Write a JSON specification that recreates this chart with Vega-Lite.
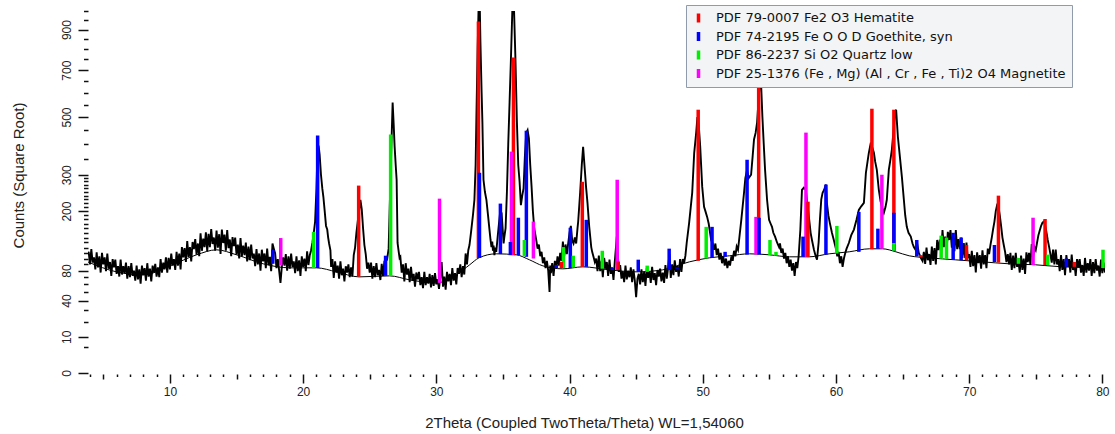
{
"$schema": "https://vega.github.io/schema/vega-lite/v6.json",
"width": 1017, "height": 362,
"autosize": {"type": "none"},
"padding": {"left": 88, "top": 11, "right": 10, "bottom": 61},
"background": "white",
"config": {"view": {"stroke": null}, "font": "Liberation Sans"},
"resolve": {"axis": {"x": "independent", "y": "independent"}},
"datasets": {
"pattern": [
{"t":3.85,"c":108},{"t":3.9,"c":112},{"t":4.0,"c":90},{"t":4.1,"c":117},{"t":4.2,"c":93},{"t":4.3,"c":102},{"t":4.4,"c":82},{"t":4.5,"c":111},{"t":4.6,"c":85},{"t":4.7,"c":104},{"t":4.8,"c":77},{"t":4.9,"c":110},{"t":5.0,"c":90},{"t":5.1,"c":102},{"t":5.2,"c":79},{"t":5.3,"c":109},{"t":5.4,"c":83},{"t":5.5,"c":94},{"t":5.6,"c":72},{"t":5.7,"c":99},{"t":5.8,"c":85},{"t":5.9,"c":98},{"t":6.0,"c":75},{"t":6.1,"c":87},{"t":6.2,"c":71},{"t":6.3,"c":98},{"t":6.4,"c":74},{"t":6.5,"c":87},{"t":6.6,"c":76},{"t":6.7,"c":93},{"t":6.8,"c":68},{"t":6.9,"c":87},{"t":7.0,"c":70},{"t":7.1,"c":92},{"t":7.2,"c":72},{"t":7.3,"c":80},{"t":7.4,"c":65},{"t":7.5,"c":88},{"t":7.6,"c":67},{"t":7.7,"c":82},{"t":7.8,"c":61},{"t":7.9,"c":88},{"t":8.0,"c":73},{"t":8.1,"c":84},{"t":8.2,"c":65},{"t":8.3,"c":92},{"t":8.4,"c":71},{"t":8.5,"c":83},{"t":8.6,"c":64},{"t":8.7,"c":88},{"t":8.8,"c":77},{"t":8.9,"c":91},{"t":9.0,"c":71},{"t":9.1,"c":85},{"t":9.2,"c":70},{"t":9.3,"c":99},{"t":9.4,"c":77},{"t":9.5,"c":93},{"t":9.6,"c":82},{"t":9.7,"c":102},{"t":9.8,"c":77},{"t":9.9,"c":101},{"t":10.0,"c":82},{"t":10.1,"c":109},{"t":10.2,"c":88},{"t":10.3,"c":99},{"t":10.4,"c":81},{"t":10.5,"c":112},{"t":10.6,"c":88},{"t":10.7,"c":109},{"t":10.8,"c":82},{"t":10.9,"c":121},{"t":11.0,"c":102},{"t":11.1,"c":119},{"t":11.2,"c":94},{"t":11.3,"c":133},{"t":11.4,"c":103},{"t":11.5,"c":121},{"t":11.6,"c":95},{"t":11.7,"c":131},{"t":11.8,"c":117},{"t":11.9,"c":137},{"t":12.0,"c":107},{"t":12.1,"c":128},{"t":12.2,"c":104},{"t":12.3,"c":149},{"t":12.4,"c":114},{"t":12.5,"c":138},{"t":12.6,"c":121},{"t":12.7,"c":151},{"t":12.8,"c":113},{"t":12.9,"c":148},{"t":13.0,"c":121},{"t":13.1,"c":158},{"t":13.2,"c":127},{"t":13.3,"c":140},{"t":13.4,"c":114},{"t":13.5,"c":155},{"t":13.6,"c":120},{"t":13.7,"c":147},{"t":13.8,"c":108},{"t":13.9,"c":157},{"t":14.0,"c":129},{"t":14.1,"c":146},{"t":14.2,"c":114},{"t":14.3,"c":156},{"t":14.4,"c":119},{"t":14.5,"c":136},{"t":14.6,"c":104},{"t":14.7,"c":141},{"t":14.8,"c":123},{"t":14.9,"c":140},{"t":15.0,"c":107},{"t":15.1,"c":126},{"t":15.2,"c":100},{"t":15.3,"c":139},{"t":15.4,"c":104},{"t":15.5,"c":124},{"t":15.6,"c":106},{"t":15.7,"c":130},{"t":15.8,"c":95},{"t":15.9,"c":122},{"t":16.0,"c":97},{"t":16.1,"c":126},{"t":16.2,"c":100},{"t":16.3,"c":109},{"t":16.4,"c":87},{"t":16.5,"c":117},{"t":16.6,"c":90},{"t":16.7,"c":109},{"t":16.8,"c":80},{"t":16.9,"c":116},{"t":17.0,"c":95},{"t":17.1,"c":109},{"t":17.2,"c":84},{"t":17.3,"c":118},{"t":17.4,"c":89},{"t":17.5,"c":103},{"t":17.6,"c":79},{"t":17.7,"c":128},{"t":17.8,"c":118},{"t":17.9,"c":109},{"t":18.0,"c":84},{"t":18.1,"c":99},{"t":18.2,"c":80},{"t":18.3,"c":62},{"t":18.4,"c":86},{"t":18.5,"c":102},{"t":18.6,"c":88},{"t":18.7,"c":108},{"t":18.8,"c":80},{"t":18.9,"c":104},{"t":19.0,"c":83},{"t":19.1,"c":109},{"t":19.2,"c":86},{"t":19.3,"c":95},{"t":19.4,"c":76},{"t":19.5,"c":104},{"t":19.6,"c":79},{"t":19.7,"c":97},{"t":19.8,"c":72},{"t":19.9,"c":104},{"t":20.0,"c":86},{"t":20.1,"c":100},{"t":20.2,"c":79},{"t":20.3,"c":113},{"t":20.4,"c":89},{"t":20.5,"c":106},
{"t":20.6,"c":115},{"t":20.7,"c":130},{"t":20.8,"c":150},{"t":20.9,"c":175},{"t":21.0,"c":260},{"t":21.08,"c":380},{"t":21.16,"c":395},{"t":21.24,"c":364},{"t":21.34,"c":300},{"t":21.44,"c":260},{"t":21.52,"c":237},{"t":21.62,"c":200},{"t":21.72,"c":165},{"t":21.81,"c":157},{"t":21.88,"c":140},{"t":21.95,"c":128},{"t":22.05,"c":115},{"t":22.1,"c":86},{"t":22.2,"c":99},{"t":22.3,"c":69},{"t":22.4,"c":95},{"t":22.5,"c":77},{"t":22.6,"c":88},{"t":22.7,"c":68},{"t":22.8,"c":95},{"t":22.9,"c":73},{"t":23.0,"c":83},{"t":23.1,"c":64},{"t":23.2,"c":87},{"t":23.3,"c":77},{"t":23.4,"c":90},{"t":23.5,"c":70},{"t":23.6,"c":85},{"t":23.7,"c":71},{"t":23.8,"c":106},{"t":23.9,"c":120},{"t":24.0,"c":150},{"t":24.1,"c":175},{"t":24.2,"c":200},{"t":24.3,"c":229},{"t":24.4,"c":205},{"t":24.5,"c":160},{"t":24.6,"c":125},{"t":24.7,"c":108},{"t":24.8,"c":83},{"t":24.9,"c":93},{"t":25.0,"c":77},{"t":25.1,"c":93},{"t":25.2,"c":68},{"t":25.3,"c":87},{"t":25.4,"c":70},{"t":25.5,"c":92},{"t":25.6,"c":73},{"t":25.7,"c":81},{"t":25.8,"c":66},{"t":25.9,"c":91},{"t":26.0,"c":72},{"t":26.1,"c":95},{"t":26.2,"c":96},{"t":26.3,"c":98},{"t":26.42,"c":118},{"t":26.49,"c":196},{"t":26.57,"c":300},{"t":26.64,"c":416},{"t":26.72,"c":558},{"t":26.8,"c":470},{"t":26.87,"c":391},{"t":26.95,"c":330},{"t":27.02,"c":285},{"t":27.09,"c":129},{"t":27.16,"c":115},{"t":27.24,"c":101},{"t":27.3,"c":103},{"t":27.4,"c":77},{"t":27.5,"c":90},{"t":27.6,"c":64},{"t":27.7,"c":92},{"t":27.8,"c":74},{"t":27.9,"c":83},{"t":28.0,"c":63},{"t":28.1,"c":86},{"t":28.2,"c":65},{"t":28.3,"c":75},{"t":28.4,"c":57},{"t":28.5,"c":77},{"t":28.6,"c":67},{"t":28.7,"c":78},{"t":28.8,"c":59},{"t":28.9,"c":70},{"t":29.0,"c":55},{"t":29.1,"c":78},{"t":29.2,"c":59},{"t":29.3,"c":70},{"t":29.4,"c":61},{"t":29.5,"c":75},{"t":29.6,"c":56},{"t":29.7,"c":73},{"t":29.8,"c":58},{"t":29.9,"c":76},{"t":30.0,"c":60},{"t":30.1,"c":67},{"t":30.2,"c":54},{"t":30.3,"c":70},{"t":30.4,"c":94},{"t":30.5,"c":57},{"t":30.6,"c":71},{"t":30.7,"c":53},{"t":30.8,"c":78},{"t":30.9,"c":64},{"t":31.0,"c":75},{"t":31.1,"c":59},{"t":31.2,"c":84},{"t":31.3,"c":65},{"t":31.4,"c":76},{"t":31.5,"c":60},{"t":31.6,"c":84},{"t":31.7,"c":75},{"t":31.8,"c":90},{"t":31.9,"c":70},{"t":32.0,"c":87},{"t":32.1,"c":74},{"t":32.2,"c":109},{"t":32.3,"c":90},{"t":32.4,"c":115},{"t":32.49,"c":125},{"t":32.6,"c":150},{"t":32.75,"c":190},{"t":32.86,"c":229},{"t":32.95,"c":330},{"t":33.01,"c":502},{"t":33.1,"c":800},{"t":33.18,"c":1040},{"t":33.26,"c":1040},{"t":33.31,"c":838},{"t":33.4,"c":600},{"t":33.46,"c":478},{"t":33.54,"c":285},{"t":33.65,"c":250},{"t":33.76,"c":229},{"t":33.88,"c":190},{"t":33.99,"c":157},{"t":34.07,"c":135},{"t":34.14,"c":121},{"t":34.2,"c":132},{"t":34.25,"c":114},{"t":34.3,"c":124},{"t":34.36,"c":106},{"t":34.43,"c":120},{"t":34.5,"c":112},{"t":34.6,"c":140},{"t":34.7,"c":170},{"t":34.8,"c":200},{"t":34.9,"c":195},{"t":35.0,"c":150},{"t":35.05,"c":128},{"t":35.1,"c":140},{"t":35.2,"c":160},{"t":35.3,"c":250},{"t":35.4,"c":400},{"t":35.5,"c":560},{"t":35.6,"c":750},{"t":35.72,"c":1040},{"t":35.82,"c":1040},{"t":35.94,"c":750},{"t":36.05,"c":480},{"t":36.15,"c":330},{"t":36.25,"c":280},{"t":36.35,"c":215},{"t":36.45,"c":240},{"t":36.55,"c":260},{"t":36.65,"c":360},{"t":36.75,"c":440},{"t":36.85,"c":450},{"t":36.95,"c":420},{"t":37.05,"c":330},{"t":37.15,"c":265},{"t":37.25,"c":200},{"t":37.35,"c":160},{"t":37.5,"c":135},{"t":37.6,"c":118},{"t":37.7,"c":126},{"t":37.8,"c":104},{"t":37.9,"c":112},{"t":38.0,"c":92},{"t":38.1,"c":102},{"t":38.2,"c":84},{"t":38.3,"c":96},{"t":38.4,"c":80},{"t":38.5,"c":50},{"t":38.55,"c":88},{"t":38.6,"c":76},{"t":38.7,"c":92},{"t":38.8,"c":72},{"t":38.9,"c":96},{"t":39.0,"c":84},{"t":39.1,"c":104},{"t":39.2,"c":88},{"t":39.3,"c":110},{"t":39.4,"c":96},{"t":39.5,"c":132},{"t":39.6,"c":104},{"t":39.7,"c":126},{"t":39.8,"c":108},{"t":39.9,"c":128},{"t":40.0,"c":150},{"t":40.1,"c":165},{"t":40.2,"c":134},{"t":40.3,"c":128},{"t":40.4,"c":140},{"t":40.5,"c":128},{"t":40.6,"c":160},{"t":40.65,"c":175},{"t":40.8,"c":250},{"t":40.92,"c":330},{"t":41.02,"c":390},{"t":41.12,"c":330},{"t":41.25,"c":260},{"t":41.35,"c":220},{"t":41.48,"c":163},{"t":41.63,"c":121},{"t":41.7,"c":112},{"t":41.8,"c":103},{"t":41.9,"c":94},{"t":42.0,"c":100},{"t":42.1,"c":79},{"t":42.2,"c":105},{"t":42.3,"c":79},{"t":42.4,"c":96},{"t":42.5,"c":70},{"t":42.6,"c":101},{"t":42.7,"c":83},{"t":42.8,"c":94},{"t":42.9,"c":72},{"t":43.0,"c":98},{"t":43.1,"c":75},{"t":43.2,"c":85},{"t":43.3,"c":66},{"t":43.4,"c":95},{"t":43.5,"c":125},{"t":43.55,"c":142},{"t":43.6,"c":120},{"t":43.7,"c":78},{"t":43.8,"c":89},{"t":43.9,"c":68},{"t":44.0,"c":79},{"t":44.1,"c":63},{"t":44.2,"c":88},{"t":44.3,"c":67},{"t":44.4,"c":80},{"t":44.5,"c":70},{"t":44.6,"c":85},{"t":44.7,"c":63},{"t":44.8,"c":82},{"t":44.9,"c":65},{"t":45.0,"c":44},{"t":45.1,"c":68},{"t":45.2,"c":75},{"t":45.3,"c":60},{"t":45.4,"c":82},{"t":45.5,"c":63},{"t":45.6,"c":78},{"t":45.7,"c":58},{"t":45.8,"c":84},{"t":45.9,"c":69},{"t":46.0,"c":79},{"t":46.1,"c":62},{"t":46.2,"c":86},{"t":46.3,"c":66},{"t":46.4,"c":76},{"t":46.5,"c":59},{"t":46.6,"c":81},{"t":46.7,"c":71},{"t":46.8,"c":83},{"t":46.9,"c":64},{"t":47.0,"c":77},{"t":47.1,"c":62},{"t":47.2,"c":89},{"t":47.3,"c":68},{"t":47.4,"c":84},{"t":47.5,"c":108},{"t":47.6,"c":69},{"t":47.7,"c":90},{"t":47.8,"c":73},{"t":47.9,"c":97},{"t":48.0,"c":78},{"t":48.1,"c":87},{"t":48.2,"c":71},{"t":48.3,"c":99},{"t":48.4,"c":78},{"t":48.5,"c":99},{"t":48.6,"c":92},{"t":48.7,"c":105},{"t":48.8,"c":130},{"t":48.98,"c":172},{"t":49.1,"c":210},{"t":49.21,"c":248},{"t":49.36,"c":370},{"t":49.51,"c":441},{"t":49.6,"c":500},{"t":49.7,"c":470},{"t":49.81,"c":391},{"t":49.96,"c":265},{"t":50.1,"c":211},{"t":50.2,"c":200},{"t":50.33,"c":186},{"t":50.45,"c":170},{"t":50.55,"c":150},{"t":50.63,"c":135},{"t":50.75,"c":128},{"t":50.85,"c":116},{"t":50.95,"c":128},{"t":51.05,"c":106},{"t":51.15,"c":118},{"t":51.25,"c":98},{"t":51.35,"c":110},{"t":51.45,"c":92},{"t":51.55,"c":104},{"t":51.65,"c":88},{"t":51.75,"c":100},{"t":51.85,"c":84},{"t":51.95,"c":96},{"t":52.05,"c":88},{"t":52.15,"c":104},{"t":52.25,"c":96},{"t":52.35,"c":114},{"t":52.45,"c":104},{"t":52.55,"c":122},{"t":52.65,"c":116},{"t":52.73,"c":135},{"t":52.9,"c":180},{"t":53.1,"c":248},{"t":53.2,"c":290},{"t":53.33,"c":315},{"t":53.45,"c":290},{"t":53.63,"c":300},{"t":53.75,"c":360},{"t":53.85,"c":416},{"t":53.97,"c":440},{"t":54.08,"c":478},{"t":54.18,"c":560},{"t":54.28,"c":640},{"t":54.38,"c":640},{"t":54.48,"c":500},{"t":54.58,"c":400},{"t":54.68,"c":315},{"t":54.83,"c":229},{"t":54.98,"c":179},{"t":55.1,"c":170},{"t":55.2,"c":163},{"t":55.3,"c":150},{"t":55.43,"c":142},{"t":55.58,"c":130},{"t":55.73,"c":121},{"t":55.8,"c":128},{"t":55.9,"c":110},{"t":56.0,"c":118},{"t":56.1,"c":100},{"t":56.2,"c":110},{"t":56.3,"c":92},{"t":56.4,"c":104},{"t":56.5,"c":86},{"t":56.6,"c":98},{"t":56.7,"c":80},{"t":56.8,"c":92},{"t":56.9,"c":72},{"t":57.0,"c":94},{"t":57.1,"c":84},{"t":57.2,"c":104},{"t":57.33,"c":157},{"t":57.45,"c":256},{"t":57.59,"c":262},{"t":57.74,"c":256},{"t":57.85,"c":220},{"t":57.97,"c":186},{"t":58.1,"c":150},{"t":58.2,"c":135},{"t":58.35,"c":116},{"t":58.48,"c":104},{"t":58.58,"c":98},{"t":58.7,"c":130},{"t":58.8,"c":180},{"t":58.9,"c":230},{"t":59.0,"c":248},{"t":59.1,"c":255},{"t":59.25,"c":271},{"t":59.32,"c":221},{"t":59.43,"c":190},{"t":59.54,"c":172},{"t":59.7,"c":150},{"t":59.84,"c":135},{"t":60.0,"c":118},{"t":60.1,"c":104},{"t":60.2,"c":112},{"t":60.3,"c":92},{"t":60.4,"c":104},{"t":60.5,"c":86},{"t":60.6,"c":100},{"t":60.7,"c":110},{"t":60.8,"c":118},{"t":60.97,"c":129},{"t":61.15,"c":145},{"t":61.35,"c":157},{"t":61.55,"c":180},{"t":61.72,"c":203},{"t":61.9,"c":212},{"t":62.1,"c":221},{"t":62.25,"c":306},{"t":62.37,"c":340},{"t":62.47,"c":370},{"t":62.62,"c":405},{"t":62.72,"c":390},{"t":62.85,"c":370},{"t":62.95,"c":340},{"t":63.07,"c":315},{"t":63.22,"c":256},{"t":63.35,"c":225},{"t":63.45,"c":211},{"t":63.6,"c":196},{"t":63.72,"c":210},{"t":63.82,"c":229},{"t":63.97,"c":315},{"t":64.1,"c":350},{"t":64.2,"c":381},{"t":64.35,"c":463},{"t":64.45,"c":520},{"t":64.52,"c":529},{"t":64.65,"c":426},{"t":64.8,"c":357},{"t":64.95,"c":294},{"t":65.1,"c":229},{"t":65.2,"c":190},{"t":65.32,"c":163},{"t":65.45,"c":150},{"t":65.62,"c":142},{"t":65.75,"c":128},{"t":65.85,"c":121},{"t":66.0,"c":115},{"t":66.1,"c":128},{"t":66.22,"c":110},{"t":66.4,"c":100},{"t":66.5,"c":96},
{"t":66.6,"c":112},{"t":66.7,"c":91},{"t":66.8,"c":120},{"t":66.9,"c":97},{"t":67.0,"c":108},{"t":67.1,"c":89},{"t":67.2,"c":122},{"t":67.3,"c":96},{"t":67.4,"c":119},{"t":67.5,"c":90},{"t":67.6,"c":135},{"t":67.7,"c":115},{"t":67.8,"c":136},{"t":67.9,"c":109},{"t":68.0,"c":156},{"t":68.1,"c":121},{"t":68.2,"c":142},{"t":68.3,"c":111},{"t":68.4,"c":152},{"t":68.5,"c":135},{"t":68.6,"c":156},{"t":68.7,"c":120},{"t":68.8,"c":140},{"t":68.9,"c":113},{"t":69.0,"c":156},{"t":69.1,"c":117},{"t":69.2,"c":137},{"t":69.3,"c":117},{"t":69.4,"c":140},{"t":69.5,"c":101},{"t":69.6,"c":129},{"t":69.7,"c":101},{"t":69.8,"c":130},{"t":69.9,"c":101},{"t":70.0,"c":108},{"t":70.1,"c":86},{"t":70.2,"c":114},{"t":70.3,"c":87},{"t":70.4,"c":106},{"t":70.5,"c":77},{"t":70.6,"c":111},{"t":70.7,"c":92},{"t":70.8,"c":106},{"t":70.9,"c":83},{"t":71.0,"c":115},{"t":71.1,"c":90},{"t":71.2,"c":106},{"t":71.3,"c":84},{"t":71.4,"c":118},{"t":71.5,"c":108},{"t":71.6,"c":125},{"t":71.7,"c":140},{"t":71.8,"c":158},{"t":71.9,"c":175},{"t":72.0,"c":200},{"t":72.1,"c":215},{"t":72.2,"c":212},{"t":72.3,"c":190},{"t":72.4,"c":165},{"t":72.5,"c":140},{"t":72.6,"c":125},{"t":72.7,"c":112},{"t":72.8,"c":94},{"t":72.9,"c":108},{"t":73.0,"c":90},{"t":73.1,"c":110},{"t":73.2,"c":81},{"t":73.3,"c":105},{"t":73.4,"c":84},{"t":73.5,"c":110},{"t":73.6,"c":86},{"t":73.7,"c":96},{"t":73.8,"c":77},{"t":73.9,"c":105},{"t":74.0,"c":81},{"t":74.1,"c":100},{"t":74.2,"c":75},{"t":74.3,"c":111},{"t":74.4,"c":94},{"t":74.5,"c":110},{"t":74.6,"c":89},{"t":74.7,"c":127},{"t":74.8,"c":101},{"t":74.9,"c":121},{"t":75.0,"c":115},{"t":75.1,"c":130},{"t":75.2,"c":145},{"t":75.3,"c":155},{"t":75.4,"c":165},{"t":75.5,"c":172},{"t":75.6,"c":175},{"t":75.7,"c":168},{"t":75.8,"c":152},{"t":75.9,"c":135},{"t":76.0,"c":122},{"t":76.1,"c":108},{"t":76.2,"c":93},{"t":76.3,"c":116},{"t":76.4,"c":90},{"t":76.5,"c":116},{"t":76.6,"c":90},{"t":76.7,"c":99},{"t":76.8,"c":79},{"t":76.9,"c":106},{"t":77.0,"c":81},{"t":77.1,"c":99},{"t":77.2,"c":73},{"t":77.3,"c":106},{"t":77.4,"c":86},{"t":77.5,"c":99},{"t":77.6,"c":77},{"t":77.7,"c":107},{"t":77.8,"c":81},{"t":77.9,"c":93},{"t":78.0,"c":72},{"t":78.1,"c":99},{"t":78.2,"c":85},{"t":78.3,"c":99},{"t":78.4,"c":77},{"t":78.5,"c":89},{"t":78.6,"c":72},{"t":78.7,"c":101},{"t":78.8,"c":77},{"t":78.9,"c":92},{"t":79.0,"c":80},{"t":79.1,"c":99},{"t":79.2,"c":72},{"t":79.3,"c":94},{"t":79.4,"c":76},{"t":79.5,"c":99},{"t":79.6,"c":80},{"t":79.7,"c":88},{"t":79.8,"c":71},{"t":79.9,"c":98},{"t":80.0,"c":76},{"t":80.1,"c":93},{"t":80.2,"c":77}
],
"background": [
{"t":3.85,"b":94},{"t":6,"b":78},{"t":8,"b":73.5},{"t":10,"b":87.6},{"t":12,"b":106.6},{"t":13.5,"b":115.8},{"t":15,"b":106.6},{"t":17,"b":91},{"t":19,"b":84.4},{"t":21,"b":84.4},{"t":22.5,"b":78.1},{"t":24.2,"b":70.5},{"t":26.5,"b":72},{"t":28,"b":66.2},{"t":30,"b":62},{"t":31.5,"b":73.5},{"t":32.5,"b":89.3},{"t":33.2,"b":101.2},{"t":34.5,"b":108.4},{"t":36,"b":106.6},{"t":37,"b":97.7},{"t":38,"b":87.6},{"t":39.5,"b":82.8},{"t":41,"b":86},{"t":43,"b":81.2},{"t":45,"b":78.1},{"t":47,"b":81.2},{"t":49,"b":94.3},{"t":50.5,"b":101.2},{"t":52,"b":104.8},{"t":53.5,"b":108.4},{"t":55,"b":106.6},{"t":56.5,"b":103},{"t":58,"b":103},{"t":59.5,"b":108.4},{"t":61,"b":112.1},{"t":62.5,"b":117.7},{"t":63.5,"b":117.7},{"t":64.5,"b":112.1},{"t":65.5,"b":104.8},{"t":67,"b":101.2},{"t":69,"b":97.7},{"t":71,"b":94.3},{"t":73,"b":91},{"t":75,"b":89.3},{"t":77,"b":86},{"t":80.2,"b":84.4}
],
"sticks": [
{"phase":"PDF 79-0007 Fe2 O3 Hematite","t":24.17,"top":268,"base":71},
{"phase":"PDF 79-0007 Fe2 O3 Hematite","t":33.16,"top":943,"base":101},
{"phase":"PDF 79-0007 Fe2 O3 Hematite","t":35.79,"top":760,"base":106},
{"phase":"PDF 79-0007 Fe2 O3 Hematite","t":39.39,"top":94,"base":84},
{"phase":"PDF 79-0007 Fe2 O3 Hematite","t":40.96,"top":279,"base":86},
{"phase":"PDF 79-0007 Fe2 O3 Hematite","t":43.66,"top":95,"base":81},
{"phase":"PDF 79-0007 Fe2 O3 Hematite","t":49.66,"top":529,"base":96},
{"phase":"PDF 79-0007 Fe2 O3 Hematite","t":54.2,"top":626,"base":108},
{"phase":"PDF 79-0007 Fe2 O3 Hematite","t":57.9,"top":224,"base":103},
{"phase":"PDF 79-0007 Fe2 O3 Hematite","t":62.7,"top":533,"base":117},
{"phase":"PDF 79-0007 Fe2 O3 Hematite","t":64.35,"top":529,"base":114},
{"phase":"PDF 79-0007 Fe2 O3 Hematite","t":66.37,"top":106,"base":102},
{"phase":"PDF 79-0007 Fe2 O3 Hematite","t":69.8,"top":125,"base":97},
{"phase":"PDF 79-0007 Fe2 O3 Hematite","t":72.2,"top":240,"base":93},
{"phase":"PDF 79-0007 Fe2 O3 Hematite","t":75.7,"top":181,"base":89},
{"phase":"PDF 79-0007 Fe2 O3 Hematite","t":77.9,"top":94,"base":86},
{"phase":"PDF 74-2195 Fe O O D Goethite, syn","t":17.72,"top":116,"base":91},
{"phase":"PDF 74-2195 Fe O O D Goethite, syn","t":21.09,"top":430,"base":84},
{"phase":"PDF 74-2195 Fe O O D Goethite, syn","t":26.19,"top":105,"base":72},
{"phase":"PDF 74-2195 Fe O O D Goethite, syn","t":33.24,"top":306,"base":101},
{"phase":"PDF 74-2195 Fe O O D Goethite, syn","t":34.81,"top":219,"base":108},
{"phase":"PDF 74-2195 Fe O O D Goethite, syn","t":35.56,"top":131,"base":106},
{"phase":"PDF 74-2195 Fe O O D Goethite, syn","t":36.16,"top":184,"base":106},
{"phase":"PDF 74-2195 Fe O O D Goethite, syn","t":36.76,"top":448,"base":103},
{"phase":"PDF 74-2195 Fe O O D Goethite, syn","t":39.01,"top":89,"base":84},
{"phase":"PDF 74-2195 Fe O O D Goethite, syn","t":40.06,"top":161,"base":84},
{"phase":"PDF 74-2195 Fe O O D Goethite, syn","t":41.26,"top":179,"base":86},
{"phase":"PDF 74-2195 Fe O O D Goethite, syn","t":43.21,"top":84,"base":81},
{"phase":"PDF 74-2195 Fe O O D Goethite, syn","t":45.16,"top":98,"base":78},
{"phase":"PDF 74-2195 Fe O O D Goethite, syn","t":47.48,"top":118,"base":81},
{"phase":"PDF 74-2195 Fe O O D Goethite, syn","t":48.08,"top":85,"base":83},
{"phase":"PDF 74-2195 Fe O O D Goethite, syn","t":50.7,"top":163,"base":101},
{"phase":"PDF 74-2195 Fe O O D Goethite, syn","t":51.68,"top":112,"base":103},
{"phase":"PDF 74-2195 Fe O O D Goethite, syn","t":53.33,"top":347,"base":107},
{"phase":"PDF 74-2195 Fe O O D Goethite, syn","t":54.23,"top":184,"base":107},
{"phase":"PDF 74-2195 Fe O O D Goethite, syn","t":57.53,"top":142,"base":103},
{"phase":"PDF 74-2195 Fe O O D Goethite, syn","t":59.25,"top":271,"base":107},
{"phase":"PDF 74-2195 Fe O O D Goethite, syn","t":61.72,"top":198,"base":112},
{"phase":"PDF 74-2195 Fe O O D Goethite, syn","t":63.15,"top":159,"base":118},
{"phase":"PDF 74-2195 Fe O O D Goethite, syn","t":64.35,"top":196,"base":114},
{"phase":"PDF 74-2195 Fe O O D Goethite, syn","t":66.07,"top":135,"base":104},
{"phase":"PDF 74-2195 Fe O O D Goethite, syn","t":68.8,"top":150,"base":98},
{"phase":"PDF 74-2195 Fe O O D Goethite, syn","t":69.4,"top":140,"base":97},
{"phase":"PDF 74-2195 Fe O O D Goethite, syn","t":71.9,"top":125,"base":94},
{"phase":"PDF 74-2195 Fe O O D Goethite, syn","t":77.3,"top":100,"base":86},
{"phase":"PDF 86-2237 Si O2 Quartz low","t":20.79,"top":152,"base":84},
{"phase":"PDF 86-2237 Si O2 Quartz low","t":26.57,"top":434,"base":72},
{"phase":"PDF 86-2237 Si O2 Quartz low","t":36.61,"top":135,"base":104},
{"phase":"PDF 86-2237 Si O2 Quartz low","t":39.54,"top":121,"base":84},
{"phase":"PDF 86-2237 Si O2 Quartz low","t":40.28,"top":105,"base":85},
{"phase":"PDF 86-2237 Si O2 Quartz low","t":42.46,"top":114,"base":83},
{"phase":"PDF 86-2237 Si O2 Quartz low","t":45.83,"top":88,"base":78},
{"phase":"PDF 86-2237 Si O2 Quartz low","t":50.26,"top":163,"base":100},
{"phase":"PDF 86-2237 Si O2 Quartz low","t":55.05,"top":135,"base":106},
{"phase":"PDF 86-2237 Si O2 Quartz low","t":55.5,"top":112,"base":105},
{"phase":"PDF 86-2237 Si O2 Quartz low","t":60.07,"top":165,"base":109},
{"phase":"PDF 86-2237 Si O2 Quartz low","t":64.35,"top":129,"base":114},
{"phase":"PDF 86-2237 Si O2 Quartz low","t":67.9,"top":144,"base":100},
{"phase":"PDF 86-2237 Si O2 Quartz low","t":68.3,"top":140,"base":99},
{"phase":"PDF 86-2237 Si O2 Quartz low","t":73.7,"top":101,"base":91},
{"phase":"PDF 86-2237 Si O2 Quartz low","t":75.9,"top":107,"base":89},
{"phase":"PDF 86-2237 Si O2 Quartz low","t":80.05,"top":116,"base":84},
{"phase":"PDF 25-1376 (Fe , Mg) (Al , Cr , Fe , Ti)2 O4 Magnetite","t":18.32,"top":139,"base":88},
{"phase":"PDF 25-1376 (Fe , Mg) (Al , Cr , Fe , Ti)2 O4 Magnetite","t":30.24,"top":232,"base":62},
{"phase":"PDF 25-1376 (Fe , Mg) (Al , Cr , Fe , Ti)2 O4 Magnetite","t":35.64,"top":374,"base":106},
{"phase":"PDF 25-1376 (Fe , Mg) (Al , Cr , Fe , Ti)2 O4 Magnetite","t":37.29,"top":175,"base":100},
{"phase":"PDF 25-1376 (Fe , Mg) (Al , Cr , Fe , Ti)2 O4 Magnetite","t":43.58,"top":285,"base":81},
{"phase":"PDF 25-1376 (Fe , Mg) (Al , Cr , Fe , Ti)2 O4 Magnetite","t":54.0,"top":186,"base":107},
{"phase":"PDF 25-1376 (Fe , Mg) (Al , Cr , Fe , Ti)2 O4 Magnetite","t":57.75,"top":441,"base":103},
{"phase":"PDF 25-1376 (Fe , Mg) (Al , Cr , Fe , Ti)2 O4 Magnetite","t":63.45,"top":300,"base":118},
{"phase":"PDF 25-1376 (Fe , Mg) (Al , Cr , Fe , Ti)2 O4 Magnetite","t":74.8,"top":184,"base":89}
]
},
"layer": [
{
"data": {"name": "pattern"},
"mark": {"type": "line", "color": "black", "strokeWidth": 1.9, "clip": true},
"encoding": {
"x": {"field": "t", "type": "quantitative", "title": "2Theta (Coupled TwoTheta/Theta) WL=1,54060",
 "scale": {"domain": [3.85, 80.2], "nice": false, "zero": false},
 "axis": {
  "orient": "bottom",
  "values": [10,20,30,40,50,60,70,80],
  "tickSize": 9, "tickWidth": 1.5, "tickColor": "#111",
  "labelOverlap": false, "labelFlush": false,
  "labelFont": "Liberation Sans", "labelFontSize": 12, "labelColor": "#222", "labelPadding": 3,
  "domain": false, "grid": false, "offset": 1,
  "titleFont": "Liberation Sans", "titleFontSize": 15, "titleFontWeight": "normal", "titleColor": "#222",
  "titleX": 496, "titleY": 48, "titleAlign": "center", "titleBaseline": "middle"
 }},
"y": {"field": "c", "type": "quantitative", "title": "Counts (Square Root)",
 "scale": {"type": "sqrt", "domain": [0, 1000], "nice": false},
 "axis": {
  "orient": "left",
  "values": [0,10,40,80,200,300,500,700,900],
  "tickSize": 10, "tickWidth": 1.5, "tickColor": "#111",
  "labelOverlap": false, "labelFlush": false,
  "labelAngle": -90, "labelAlign": "center", "labelBaseline": "bottom",
  "labelFont": "Liberation Sans", "labelFontSize": 12, "labelColor": "#222", "labelPadding": 5,
  "domain": false, "grid": false,
  "titleFont": "Liberation Sans", "titleFontSize": 15, "titleFontWeight": "normal", "titleColor": "#222",
  "titleX": -70, "titleY": 164, "titleAlign": "center", "titleBaseline": "middle", "titleAngle": -90
 }}
}
},
{
"data": {"name": "background"},
"mark": {"type": "line", "color": "black", "strokeWidth": 1, "interpolate": "monotone"},
"encoding": {
"x": {"field": "t", "type": "quantitative",
 "axis": {"orient": "bottom", "title": null, "values": [5,15,25,35,45,55,65,75], "tickSize": 5, "tickWidth": 1.5, "tickColor": "#111", "labels": false, "domain": false, "grid": false, "offset": 1}},
"y": {"field": "b", "type": "quantitative",
 "axis": {"orient": "left", "title": null, "values": [5,20,30,50,60,70,90,100,110,120,130,140,150,160,170,180,190,210,220,230,240,250,260,270,280,290,350,400,450,550,600,650,750,800,850,950,1000], "tickSize": 4.5, "tickWidth": 1.5, "tickColor": "#111", "labels": false, "domain": false, "grid": false}}
}
},
{
"data": {"name": "sticks"},
"mark": {"type": "rule", "strokeWidth": 3.5, "clip": true},
"encoding": {
"x": {"field": "t", "type": "quantitative",
 "axis": {"orient": "bottom", "title": null, "values": [4,6,7,8,9,11,12,13,14,16,17,18,19,21,22,23,24,26,27,28,29,31,32,33,34,36,37,38,39,41,42,43,44,46,47,48,49,51,52,53,54,56,57,58,59,61,62,63,64,66,67,68,69,71,72,73,74,76,77,78,79], "tickSize": 2.5, "tickWidth": 1.5, "tickColor": "#111", "labels": false, "domain": false, "grid": false, "offset": 1}},
"y": {"field": "top", "type": "quantitative", "axis": null},
"y2": {"field": "base"},
"order": {"field": "top", "type": "quantitative", "sort": "descending"},
"color": {"field": "phase", "type": "nominal",
 "scale": {"domain": ["PDF 79-0007 Fe2 O3 Hematite", "PDF 74-2195 Fe O O D Goethite, syn", "PDF 86-2237 Si O2 Quartz low", "PDF 25-1376 (Fe , Mg) (Al , Cr , Fe , Ti)2 O4 Magnetite"],
  "range": ["#ff0000", "#0000ff", "#00ee00", "#ff00ff"]},
 "legend": {"title": null, "orient": "none", "legendX": 598, "legendY": -6, "direction": "vertical",
  "fillColor": "#f3f4f6", "strokeColor": "#8f9aaa", "padding": 6, "cornerRadius": 0,
  "symbolType": "M0,-1L0,1", "symbolSize": 81, "symbolStrokeWidth": 3.5,
  "labelFont": "DejaVu Sans", "labelFontSize": 13, "labelColor": "#111", "labelLimit": 600, "labelOffset": 11, "rowPadding": 4.5, "clipHeight": 14}}
}
}
]
}
